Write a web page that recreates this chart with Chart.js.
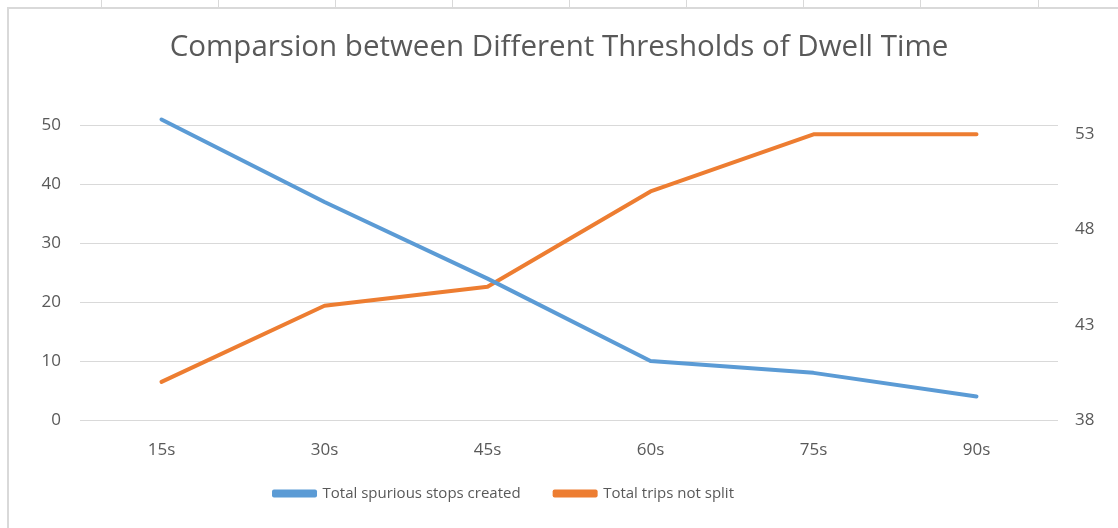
<!DOCTYPE html>
<html>
<head>
<meta charset="utf-8">
<script src="https://cdn.jsdelivr.net/npm/chart.js@4"></script>
<style>
    html, body { margin: 0; padding: 0; background: #fff; }
    body { width: 1118px; height: 528px; position: relative; overflow: hidden; }
    #sheet { position: absolute; left: 0; top: 0; width: 1118px; height: 7px; }
    .cell { position: absolute; top: 0; width: 1px; height: 7px; background: #d9d9d9; }
    #frame { position: absolute; left: 7px; top: 7px; width: 1200px; height: 600px;
             border-left: 2px solid #d9d9d9; border-top: 2px solid #d9d9d9; }
    #wrap { position: absolute; left: 0; top: 0; width: 1118px; height: 528px; }
    canvas { display: block; }
</style>
</head>
<body>
<div id="sheet"></div>
<div id="frame"></div>
<div id="wrap"><canvas id="chart" width="1118" height="528"></canvas></div>
<script>
// chart data
const categories = ['15s', '30s', '45s', '60s', '75s', '90s'];
const spuriousStops = [51, 37, 24, 10, 8, 4];
const tripsNotSplit = [40, 44, 45, 50, 53, 53];
const leftTicks = [0, 10, 20, 30, 40, 50];
const rightTicks = [38, 43, 48, 53];

// spreadsheet column lines above the chart
const sheet = document.getElementById('sheet');
[101, 218, 335, 452, 569, 686, 803, 920, 1038].forEach(x => {
    const d = document.createElement('div');
    d.className = 'cell';
    d.style.left = x + 'px';
    sheet.appendChild(d);
});

const grey = '#595959';
const font = 'Open Sans';

// legend sits a bit left of centre and a little higher in the original
const legendShift = {
    id: 'legendShift',
    afterLayout(chart) {
        chart.legend.left -= 55;
        chart.legend.right -= 55;
        chart.legend.top -= 16;
        chart.legend.bottom -= 16;
    }
};

new Chart(document.getElementById('chart'), {
    type: 'line',
    data: {
        labels: categories,
        datasets: [{
            label: 'Total spurious stops created',
            data: spuriousStops,
            borderColor: '#5B9BD5',
            backgroundColor: '#5B9BD5',
            borderWidth: 4,
            borderCapStyle: 'round',
            borderJoinStyle: 'round',
            pointRadius: 0,
            tension: 0,
            clip: false,
            yAxisID: 'y'
        }, {
            label: 'Total trips not split',
            data: tripsNotSplit,
            borderColor: '#ED7D31',
            backgroundColor: '#ED7D31',
            borderWidth: 4,
            borderCapStyle: 'round',
            borderJoinStyle: 'round',
            pointRadius: 0,
            tension: 0,
            clip: false,
            yAxisID: 'y1'
        }]
    },
    plugins: [legendShift],
    options: {
        responsive: false,
        animation: false,
        layout: { padding: { left: 0, right: 0, top: 0, bottom: 1 } },
        plugins: {
            title: {
                display: true,
                text: 'Comparsion between Different Thresholds of Dwell Time',
                color: grey,
                font: { family: font, size: 29.5, weight: 'normal' },
                padding: { top: 30, bottom: 60 }
            },
            legend: {
                position: 'bottom',
                labels: {
                    color: grey,
                    font: { family: font, size: 15 },
                    boxWidth: 41,
                    boxHeight: 4,
                    padding: 34
                }
            },
            tooltip: { enabled: false }
        },
        scales: {
            x: {
                offset: true,
                grid: { display: false },
                border: { display: false },
                ticks: { color: grey, font: { family: font, size: 17 }, padding: 12 },
                afterFit: s => { s.height = 48; }
            },
            y: {
                position: 'left',
                min: 0,
                max: 50,
                afterBuildTicks: s => { s.ticks = leftTicks.map(v => ({ value: v })); },
                grid: { color: '#d9d9d9', lineWidth: 1, drawTicks: false },
                border: { display: false },
                ticks: { color: grey, font: { family: font, size: 17 }, padding: 19 },
                afterFit: s => { s.width = 80; }
            },
            y1: {
                position: 'right',
                min: 38,
                max: 53.47,
                afterBuildTicks: s => { s.ticks = rightTicks.map(v => ({ value: v })); },
                grid: { display: false, drawTicks: false },
                border: { display: false },
                ticks: { color: grey, font: { family: font, size: 17 }, padding: 17 },
                afterFit: s => { s.width = 60; }
            }
        }
    }
});
</script>
</body>
</html>
